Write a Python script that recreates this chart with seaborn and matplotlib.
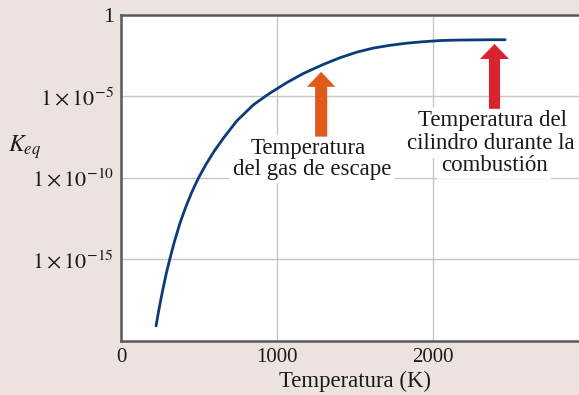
import numpy as np
import pandas as pd
import matplotlib

matplotlib.use("Agg")
import matplotlib.pyplot as plt
import seaborn as sns
from matplotlib.ticker import FixedLocator, FuncFormatter, NullLocator

# curve (temperature in K, log10 of K_eq)
temperature_k = [225, 239, 255, 271, 290, 313, 342, 380, 419, 457, 497, 547,
                 598, 662, 744, 850, 925, 957, 1064, 1170, 1299, 1406, 1513,
                 1619, 1726, 1833, 1940, 2047, 2154, 2260, 2367, 2464]
log10_keq = [-19.09, -18.31, -17.50, -16.74, -15.89, -14.99, -13.94, -12.73,
             -11.70, -10.82, -10.01, -9.14, -8.36, -7.50, -6.49, -5.51, -5.00,
             -4.79, -4.15, -3.59, -3.03, -2.62, -2.28, -2.03, -1.86, -1.73,
             -1.64, -1.57, -1.54, -1.53, -1.52, -1.52]

x_ticks = [0, 1000, 2000]
y_tick_exponents = [0, -5, -10, -15]

exhaust_lines = ["Temperatura", "del gas de escape"]
cylinder_lines = ["Temperatura del", "cilindro durante la", "combustión"]

BG = "#ece3e1"
NAVY = "#0b3c7a"
ORANGE = "#e05a1a"
RED = "#d9232e"
SPINE = "#5a5a5a"
INK = "#1a1a1a"

sns.set_theme(style="whitegrid")
plt.rcParams["font.family"] = ["Liberation Serif", "DejaVu Serif"]
plt.rcParams["mathtext.fontset"] = "stix"

df = pd.DataFrame({"T": temperature_k, "Keq": 10.0 ** np.array(log10_keq)})

fig = plt.figure(figsize=(5.79, 3.95), dpi=100, facecolor=BG)
ax = fig.add_axes([121 / 579, 1 - 340.7 / 395, 1 - 121 / 579, (340.7 - 15) / 395])
ax.set_facecolor("white")
ax.set_yscale("log")

sns.lineplot(data=df, x="T", y="Keq", ax=ax, color=NAVY, lw=2.0, zorder=3)

ax.set_xlim(0, 2938)
ax.set_ylim(1e-20, 1)

ax.xaxis.set_major_locator(FixedLocator(x_ticks))
ax.yaxis.set_major_locator(FixedLocator([10.0 ** e for e in y_tick_exponents]))
ax.yaxis.set_minor_locator(NullLocator())


def fmt_y(v, _pos):
    e = int(round(np.log10(v)))
    return "1" if e == 0 else rf"$1\times10^{{{e}}}$"


ax.yaxis.set_major_formatter(FuncFormatter(fmt_y))
ax.tick_params(axis="x", length=0, pad=5, labelsize=15, colors=INK)
ax.tick_params(axis="y", length=0, pad=5, labelsize=16, colors=INK)
ax.grid(True, color="#c6c6c6", lw=1.0)
ax.grid(False, which="minor")

for side in ["left", "bottom", "top"]:
    ax.spines[side].set_visible(True)
    ax.spines[side].set_color(SPINE)
    ax.spines[side].set_linewidth(1.8)
ax.spines["right"].set_visible(False)

ax.set_xlabel("Temperatura (K)", fontsize=16.4, color=INK, va="top")
ax.xaxis.set_label_coords(0.511, -0.092)
ax.set_ylabel(r"$K_{eq}$", rotation=0, fontsize=17, color=INK,
              ha="center", va="center")
ax.yaxis.set_label_coords(-0.21, 0.595)

# arrows (tail -> tip)
for t, y_tail, y_tip, col, hw, tw in [
    (1284, -7.47, -3.49, ORANGE, 20.5, 8.7),
    (2396, -5.76, -1.78, RED, 21.0, 8.0),
]:
    ax.annotate(
        "",
        xy=(t, 10.0 ** y_tip),
        xytext=(t, 10.0 ** y_tail),
        arrowprops=dict(
            arrowstyle=f"simple,head_length=10.8,head_width={hw},tail_width={tw}",
            mutation_scale=1, color=col, lw=0, shrinkA=0, shrinkB=0,
        ),
        zorder=6,
    )

# each label line gets its own white box; boxes first, then the text on top
labels = list(zip(exhaust_lines, [1204, 1226], [-8.54, -9.80])) + \
    list(zip(cylinder_lines, [2380, 2374, 2393], [-6.83, -8.24, -9.58]))
box = dict(fc="white", ec="none", pad=2.5)
for s, t, lg in labels:
    ax.text(t, 10.0 ** lg, s, ha="center", va="baseline", fontsize=16.5,
            color="none", bbox=box, zorder=4)
for s, t, lg in labels:
    ax.text(t, 10.0 ** lg, s, ha="center", va="baseline", fontsize=16.5,
            color=INK, zorder=5)

fig.savefig("out.png", dpi=100, facecolor=BG)
